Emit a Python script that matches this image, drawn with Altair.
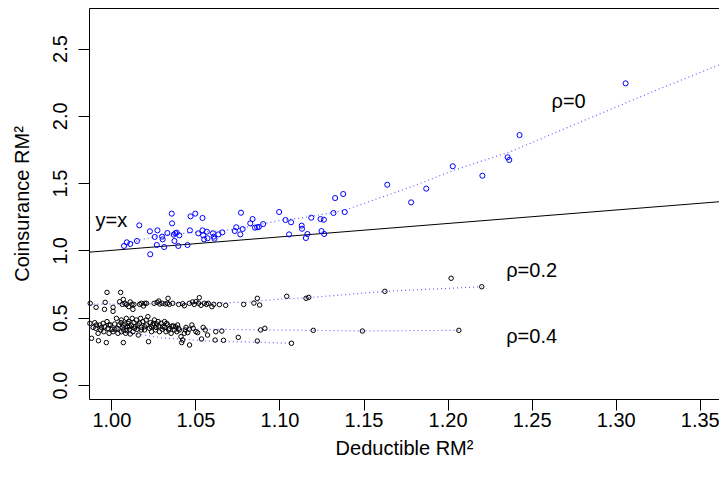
import altair as alt
import pandas as pd

FONT = "Liberation Sans"

# ---- rho = 0 : blue points (Deductible RM^2, Coinsurance RM^2)
rho0_x = [1.0075, 1.0092, 1.0112, 1.0152, 1.0166, 1.0229, 1.0231, 1.0258, 1.0270, 1.0274,
          1.0302, 1.0305, 1.0314, 1.0333, 1.0359, 1.0361, 1.0371, 1.0375, 1.0380, 1.0388,
          1.0398, 1.0404, 1.0453, 1.0467, 1.0471, 1.0499, 1.0517, 1.0542, 1.0542, 1.0546,
          1.0552, 1.0568, 1.0572, 1.0604, 1.0609, 1.0613, 1.0637, 1.0660, 1.0734, 1.0743,
          1.0767, 1.0771, 1.0781, 1.0826, 1.0840, 1.0854, 1.0867, 1.0877, 1.0903, 1.0998,
          1.1036, 1.1057, 1.1069, 1.1132, 1.1134, 1.1157, 1.1166, 1.1189, 1.1244, 1.1250,
          1.1264, 1.1266, 1.1321, 1.1331, 1.1379, 1.1388, 1.1641, 1.1783, 1.1873, 1.2031,
          1.2207, 1.2357, 1.2367, 1.2428, 1.3059]
rho0_y = [1.033, 1.060, 1.048, 1.070, 1.186, 1.142, 0.971, 1.100, 1.040, 1.149,
          1.102, 1.082, 1.025, 1.129, 1.273, 1.201, 1.117, 1.070, 1.127, 1.132,
          1.033, 1.112, 1.040, 1.149, 1.253, 1.273, 1.127, 1.241, 1.149, 1.112,
          1.082, 1.139, 1.090, 1.127, 1.102, 1.087, 1.119, 1.134, 1.144, 1.172,
          1.119, 1.280, 1.159, 1.201, 1.233, 1.169, 1.172, 1.174, 1.196, 1.285,
          1.226, 1.119, 1.209, 1.184, 1.161, 1.092, 1.122, 1.243, 1.233, 1.144,
          1.228, 1.122, 1.278, 1.389, 1.419, 1.285, 1.488, 1.357, 1.459, 1.625,
          1.555, 1.692, 1.672, 1.857, 2.241]

# ---- rho = 0.2 : black points
rho02_x = [0.9874, 0.9909, 0.9963, 0.9974, 0.9959, 1.0010, 1.0010, 1.0049, 1.0055, 1.0071,
           1.0065, 1.0081, 1.0089, 1.0103, 1.0112, 1.0122, 1.0128, 1.0134, 1.0168, 1.0178,
           1.0191, 1.0199, 1.0209, 1.0254, 1.0272, 1.0282, 1.0288, 1.0302, 1.0321, 1.0337,
           1.0333, 1.0345, 1.0365, 1.0400, 1.0424, 1.0434, 1.0464, 1.0483, 1.0493, 1.0503,
           1.0523, 1.0519, 1.0533, 1.0552, 1.0566, 1.0576, 1.0598, 1.0609, 1.0643, 1.0680,
           1.0787, 1.0848, 1.0868, 1.0882, 1.1043, 1.1158, 1.1174, 1.1627, 1.2021, 1.2203]
rho02_y = [0.607, 0.577, 0.614, 0.688, 0.562, 0.577, 0.547, 0.619, 0.688, 0.636,
           0.599, 0.607, 0.597, 0.582, 0.617, 0.599, 0.562, 0.599, 0.599, 0.607,
           0.587, 0.607, 0.607, 0.607, 0.614, 0.624, 0.602, 0.607, 0.602, 0.644,
           0.607, 0.599, 0.607, 0.599, 0.604, 0.589, 0.607, 0.617, 0.599, 0.619,
           0.649, 0.607, 0.592, 0.607, 0.599, 0.607, 0.582, 0.599, 0.597, 0.592,
           0.599, 0.609, 0.644, 0.594, 0.659, 0.644, 0.651, 0.696, 0.793, 0.730]

# ---- rho = 0.4 : black points
rho04_x = [0.9872, 0.9882, 0.9901, 0.9907, 0.9921, 0.9923, 0.9931, 0.9937, 0.9951, 0.9955,
           0.9961, 0.9970, 0.9974, 0.9980, 0.9986, 0.9994, 1.0004, 1.0010, 1.0020, 1.0030,
           1.0034, 1.0045, 1.0057, 1.0065, 1.0071, 1.0073, 1.0081, 1.0085, 1.0089, 1.0097,
           1.0103, 1.0108, 1.0112, 1.0118, 1.0124, 1.0128, 1.0134, 1.0142, 1.0148, 1.0152,
           1.0160, 1.0168, 1.0174, 1.0179, 1.0187, 1.0197, 1.0207, 1.0217, 1.0221, 1.0227,
           1.0233, 1.0239, 1.0247, 1.0256, 1.0262, 1.0270, 1.0278, 1.0286, 1.0296, 1.0306,
           1.0316, 1.0325, 1.0335, 1.0345, 1.0355, 1.0369, 1.0381, 1.0389, 1.0400, 1.0414,
           1.0418, 1.0424, 1.0434, 1.0444, 1.0454, 1.0465, 1.0479, 1.0487, 1.0503, 1.0513,
           1.0536, 1.0546, 1.0558, 1.0572, 1.0617, 1.0621, 1.0657, 1.0667, 1.0755, 1.0868,
           1.0888, 1.0913, 1.1071, 1.1201, 1.1493, 1.2067,
           1.0059, 1.0069, 1.0099, 1.0108, 1.0138, 1.0158, 1.0178, 1.0197, 1.0207, 1.0237,
           1.0250, 1.0266, 1.0282, 1.0302, 1.0316, 1.0329, 1.0341, 1.0361, 1.0375, 1.0394,
           1.0404, 1.0440, 1.0463, 1.0089, 1.0059, 1.0039, 1.0020, 0.9986, 0.9941, 0.9911,
           0.9892]
rho04_y = [0.458, 0.347, 0.463, 0.421, 0.384, 0.329, 0.446, 0.409, 0.458, 0.396,
           0.433, 0.315, 0.471, 0.421, 0.384, 0.446, 0.414, 0.396, 0.453, 0.495,
           0.421, 0.446, 0.463, 0.428, 0.315, 0.409, 0.453, 0.384, 0.495, 0.433,
           0.471, 0.414, 0.379, 0.446, 0.495, 0.396, 0.463, 0.433, 0.483, 0.414,
           0.371, 0.458, 0.495, 0.428, 0.471, 0.409, 0.446, 0.508, 0.322, 0.421,
           0.463, 0.396, 0.446, 0.483, 0.409, 0.453, 0.471, 0.396, 0.458, 0.433,
           0.471, 0.396, 0.446, 0.421, 0.384, 0.438, 0.433, 0.396, 0.421, 0.359,
           0.315, 0.334, 0.384, 0.428, 0.389, 0.297, 0.446, 0.421, 0.396, 0.389,
           0.342, 0.428, 0.409, 0.371, 0.334, 0.396, 0.401, 0.332, 0.354, 0.327,
           0.409, 0.421, 0.310, 0.406, 0.401, 0.406,
           0.483, 0.446, 0.458, 0.433, 0.421, 0.446, 0.409, 0.433, 0.483, 0.433,
           0.458, 0.428, 0.438, 0.414, 0.428, 0.458, 0.409, 0.438, 0.409, 0.446,
           0.409, 0.409, 0.414, 0.404, 0.396, 0.384, 0.414, 0.446, 0.428, 0.446,
           0.428]

# ---- dotted fitted curves
curve0_x = [1.0079, 1.0167, 1.0305, 1.0503, 1.0641, 1.0739, 1.0838, 1.0917, 1.1016, 1.1114,
            1.1292, 1.1390, 1.1785, 1.2041, 1.2376, 1.2771, 1.3244, 1.3639]
curve0_y = [1.040, 1.077, 1.114, 1.134, 1.144, 1.157, 1.181, 1.201, 1.226, 1.238,
            1.275, 1.300, 1.473, 1.597, 1.734, 1.944, 2.192, 2.390]
curve02_x = [0.9870, 1.0400, 1.0800, 1.0996, 1.1174, 1.1627, 1.2203]
curve02_y = [0.600, 0.605, 0.615, 0.637, 0.649, 0.696, 0.730]
curve04a_x = [0.9870, 1.0500, 1.1201, 1.1493, 1.2067]
curve04a_y = [0.430, 0.415, 0.406, 0.401, 0.406]
curve04b_x = [0.9870, 1.0100, 1.0300, 1.0600, 1.0868, 1.1071]
curve04b_y = [0.420, 0.390, 0.350, 0.325, 0.318, 0.310]

# ---- reference line y = x
diag = [0.98, 1.37]

# ---- labels
lab_text = ["ρ=0", "ρ=0.2", "ρ=0.4", "y=x"]
lab_x = [1.272, 1.25, 1.25, 1.00]
lab_y = [2.10, 0.85, 0.36, 1.22]

x_ticks = [1.00, 1.05, 1.10, 1.15, 1.20, 1.25, 1.30, 1.35]
y_ticks = [0.0, 0.5, 1.0, 1.5, 2.0, 2.5]

xs = alt.Scale(domain=[0.98668, 1.36146], nice=False, zero=False)
ys = alt.Scale(domain=[-0.104, 2.801], nice=False, zero=False)

x_axis = alt.Axis(values=x_ticks, format=".2f", title="Deductible RM²", grid=False,
                  domain=False, tickSize=11, tickColor="black", tickWidth=1,
                  labelFont=FONT, labelFontSize=20, labelColor="black", labelPadding=0,
                  labelFlush=False, labelOverlap=False,
                  titleFont=FONT, titleFontSize=20, titleFontWeight="normal",
                  titleColor="black", titlePadding=8)
y_axis = alt.Axis(values=y_ticks, format=".1f", title="Coinsurance RM²", grid=False,
                  domain=False, tickSize=11, tickColor="black", tickWidth=1,
                  labelFont=FONT, labelFontSize=20, labelColor="black", labelPadding=12,
                  labelAngle=270, labelAlign="center", labelBaseline="alphabetic",
                  labelFlush=False, labelOverlap=False,
                  titleFont=FONT, titleFontSize=20, titleFontWeight="normal",
                  titleColor="black", titlePadding=18)


def xy(df_x, df_y):
    return pd.DataFrame({"x": df_x, "y": df_y})


def enc():
    return dict(x=alt.X("x:Q", scale=xs, axis=x_axis),
                y=alt.Y("y:Q", scale=ys, axis=y_axis))


dotted = dict(color="#3b3bff", strokeDash=[1, 3], strokeWidth=1.2, opacity=0.8, clip=True)

layers = [
    alt.Chart(xy(diag, diag)).mark_line(color="black", strokeWidth=1, clip=True).encode(**enc()),
    alt.Chart(xy(curve0_x, curve0_y)).mark_line(**dotted).encode(**enc()),
    alt.Chart(xy(curve02_x, curve02_y)).mark_line(**dotted).encode(**enc()),
    alt.Chart(xy(curve04a_x, curve04a_y)).mark_line(**dotted).encode(**enc()),
    alt.Chart(xy(curve04b_x, curve04b_y)).mark_line(**dotted).encode(**enc()),
    alt.Chart(xy(rho02_x, rho02_y)).mark_point(shape="circle", filled=False, size=20,
                                                color="black", strokeWidth=1, opacity=1).encode(**enc()),
    alt.Chart(xy(rho04_x, rho04_y)).mark_point(shape="circle", filled=False, size=20,
                                                color="black", strokeWidth=1, opacity=1).encode(**enc()),
    alt.Chart(xy(rho0_x, rho0_y)).mark_point(shape="circle", filled=False, size=26,
                                              color="blue", strokeWidth=1, opacity=1).encode(**enc()),
    alt.Chart(pd.DataFrame({"x": lab_x, "y": lab_y, "t": lab_text})).mark_text(
        font=FONT, fontSize=20, color="black", align="center", baseline="middle"
    ).encode(text="t:N", **enc()),
]

# svg is kept 711 px wide so that it fits the page body without being shrunk
chart = alt.layer(*layers).properties(
    width=630, height=391,
    autosize=alt.AutoSizeParams(type="none"),
    padding={"left": 81, "top": 0, "right": 0, "bottom": 60},
).configure_view(stroke="black", strokeWidth=1)

chart.save("out.html", embed_options={"renderer": "svg", "actions": False})
